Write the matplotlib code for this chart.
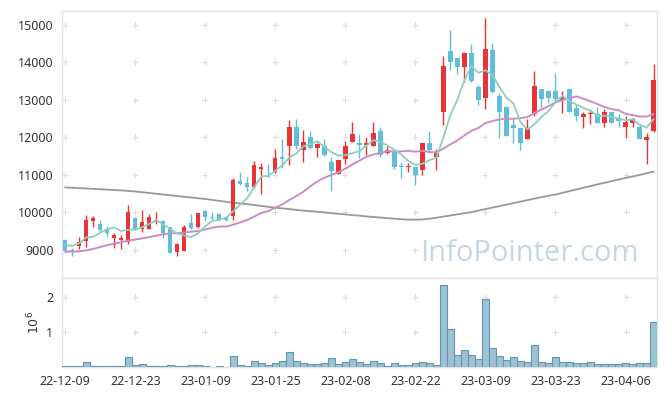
import matplotlib
matplotlib.use("Agg")
import matplotlib.pyplot as plt
import numpy as np
import pandas as pd

plt.rcParams['font.family'] = ['Noto Sans', 'DejaVu Sans']

dates = [
    "22-12-09", "22-12-12", "22-12-13", "22-12-14", "22-12-15", "22-12-16", "22-12-19", "22-12-20",
    "22-12-21", "22-12-22", "22-12-23", "22-12-26", "22-12-27", "22-12-28", "22-12-29", "23-01-02",
    "23-01-03", "23-01-04", "23-01-05", "23-01-06", "23-01-09", "23-01-10", "23-01-11", "23-01-12",
    "23-01-13", "23-01-16", "23-01-17", "23-01-18", "23-01-19", "23-01-20", "23-01-25", "23-01-26",
    "23-01-27", "23-01-30", "23-01-31", "23-02-01", "23-02-02", "23-02-03", "23-02-06", "23-02-07",
    "23-02-08", "23-02-09", "23-02-10", "23-02-13", "23-02-14", "23-02-15", "23-02-16", "23-02-17",
    "23-02-20", "23-02-21", "23-02-22", "23-02-23", "23-02-24", "23-02-27", "23-02-28", "23-03-02",
    "23-03-03", "23-03-06", "23-03-07", "23-03-08", "23-03-09", "23-03-10", "23-03-13", "23-03-14",
    "23-03-15", "23-03-16", "23-03-17", "23-03-20", "23-03-21", "23-03-22", "23-03-23", "23-03-24",
    "23-03-27", "23-03-28", "23-03-29", "23-03-30", "23-03-31", "23-04-03", "23-04-04", "23-04-05",
    "23-04-06", "23-04-07", "23-04-10", "23-04-11", "23-04-12",
]

opens = [9270, 9000, 9110, 9250, 9780, 9700, 9530, 9330, 9270, 9200,
         9840, 9550, 9570, 9740, 9770, 9600, 8940, 8980, 9710, 9600,
         10050, 9870, 9950, 9880, 9910, 10830, 10780, 10690, 11150, 10970,
         11090, 11460, 11780, 12290, 11670, 12020, 11730, 11780, 11340, 11030,
         11430, 11890, 11840, 11800, 11760, 12170, 11580, 11600, 11230, 11200,
         11200, 11140, 11840, 11490, 12690, 14310, 14130, 13890, 14240, 13340,
         13040, 14330, 13110, 12820, 12330, 12240, 11960, 12630, 13290, 13240,
         13240, 13000, 13290, 12780, 12550, 12620, 12620, 12380, 12690, 12460,
         12280, 12380, 12290, 11940, 12180]
closes = [8980, 8940, 9200, 9800, 9840, 9520, 9440, 9400, 9330, 10000,
          9550, 9740, 9870, 9800, 9460, 8930, 9150, 9600, 9580, 9980,
          9870, 9840, 9800, 9800, 10870, 10760, 10690, 11270, 11220, 10950,
          11440, 11430, 12290, 11780, 11870, 11730, 11820, 11530, 11110, 11400,
          11780, 12090, 11800, 11840, 12130, 11520, 11670, 11200, 11210, 11250,
          11000, 11840, 11670, 11580, 13910, 14000, 13870, 14240, 13510, 13000,
          14350, 13200, 12690, 12050, 12260, 11840, 12240, 13360, 13030, 13060,
          13020, 13070, 12670, 12560, 12620, 12650, 12380, 12690, 12380, 12440,
          12420, 12490, 11970, 12000, 13540]
highs = [9280, 9040, 9350, 9930, 9900, 9800, 9640, 9460, 9400, 10200,
         9890, 10070, 9950, 10000, 9800, 9620, 9180, 9670, 9950, 9990,
         10070, 10000, 9980, 9910, 10930, 11090, 10940, 11380, 11330, 11290,
         11680, 11950, 12470, 12490, 12200, 12160, 11840, 11950, 11470, 11400,
         11910, 12400, 12090, 12020, 12400, 12270, 11770, 11600, 11340, 11310,
         11200, 11840, 12160, 11690, 14160, 14870, 14130, 14270, 14490, 13400,
         15180, 14510, 13180, 12820, 12510, 12240, 12490, 13760, 13290, 13240,
         13720, 13240, 13290, 12870, 12670, 12750, 12800, 12750, 12690, 12620,
         12560, 12520, 12350, 12110, 13960]
lows = [8970, 8850, 9020, 9090, 9620, 9490, 9370, 9040, 9020, 9160,
        9520, 9490, 9550, 9690, 9310, 8920, 8840, 8960, 9550, 9590,
        9760, 9790, 9780, 9780, 9800, 10720, 10580, 10640, 10490, 10940,
        11060, 11180, 11270, 11700, 11340, 11690, 11490, 11510, 10580, 11030,
        11280, 11870, 11440, 11530, 11760, 11490, 11560, 11150, 10910, 11090,
        10720, 10990, 11580, 11130, 12320, 13800, 13690, 13470, 13490, 12870,
        12750, 13180, 11980, 12050, 11840, 11670, 11960, 12580, 12780, 12930,
        12980, 12640, 12670, 12440, 12250, 12360, 12380, 12270, 12380, 12290,
        12020, 12270, 11970, 11290, 12140]
volumes = [0.02, 0.02, 0.02, 0.135, 0.02, 0.02, 0.02, 0.02, 0.02, 0.28,
           0.05, 0.08, 0.02, 0.02, 0.02, 0.05, 0.02, 0.02, 0.05, 0.05,
           0.02, 0.005, 0.02, 0.005, 0.31, 0.05, 0.02, 0.16, 0.105, 0.05,
           0.105, 0.16, 0.42, 0.16, 0.105, 0.08, 0.08, 0.105, 0.25, 0.08,
           0.135, 0.22, 0.135, 0.08, 0.16, 0.105, 0.02, 0.105, 0.05, 0.05,
           0.105, 0.135, 0.105, 0.05, 2.33, 1.09, 0.34, 0.48, 0.34, 0.22,
           1.92, 0.54, 0.31, 0.19, 0.28, 0.16, 0.135, 0.625, 0.135, 0.105,
           0.28, 0.135, 0.135, 0.105, 0.105, 0.135, 0.08, 0.08, 0.08, 0.08,
           0.105, 0.08, 0.105, 0.105, 1.29]  # millions of shares

ma5_head = [9133, 9107, 9178, 9338]
ma20_head = [8956, 8956, 8965, 8990, 9030, 9080, 9130, 9170, 9210, 9250,
             9280, 9310, 9345, 9380, 9420, 9440, 9450, 9465, 9490]
ma120 = [10670, 10660, 10650, 10640, 10630, 10620, 10610, 10600, 10590, 10575,
         10560, 10540, 10520, 10500, 10480, 10460, 10440, 10420, 10400, 10380,
         10360, 10335, 10310, 10285, 10260, 10240, 10220, 10200, 10175, 10150,
         10130, 10110, 10090, 10070, 10050, 10035, 10020, 10000, 9985, 9965,
         9950, 9930, 9915, 9895, 9880, 9865, 9850, 9835, 9820, 9810,
         9810, 9815, 9835, 9860, 9890, 9920, 9950, 9980, 10010, 10050,
         10090, 10130, 10170, 10210, 10250, 10290, 10330, 10370, 10410, 10445,
         10480, 10525, 10570, 10615, 10660, 10705, 10750, 10790, 10835, 10880,
         10920, 10960, 11000, 11045, 11090]

price_ticks = [9000, 10000, 11000, 12000, 13000, 14000, 15000]
vol_ticks = [1, 2]

n = len(dates)
x = np.arange(n)
cl = pd.Series(closes, dtype=float)
ma5 = cl.rolling(5).mean().to_numpy()
ma5[:len(ma5_head)] = ma5_head
ma20 = cl.rolling(20).mean().to_numpy()
ma20[:len(ma20_head)] = ma20_head

RED = '#ea3337'
BLUE = '#62bed8'
SPINE = '#e3e3e3'
TXT = '#333333'

fig = plt.figure(figsize=(6.65, 3.96), dpi=100)
ax = fig.add_axes([0.0928, 0.2972, 0.8952, 0.6758])
ax2 = fig.add_axes([0.0928, 0.0732, 0.8952, 0.2240], sharex=ax)

for i in range(n):
    o, c, h, l = opens[i], closes[i], highs[i], lows[i]
    col = RED if c >= o else BLUE
    ax.vlines(x[i], l, h, color=col, lw=1.0, zorder=3)
    ax.bar(x[i], max(abs(c - o), 40), bottom=min(o, c), width=0.62, color=col,
           edgecolor='none', zorder=4)

ax.plot(x, ma120, color='#999999', lw=1.3, zorder=2)
ax.plot(x, ma20, color='#cc8cc6', lw=1.4, zorder=5)
ax.plot(x, ma5, color='#8ccfc0', lw=1.3, zorder=6)

ax.set_ylim(8245, 15381)
ax.set_xlim(-0.5, 84.5)
ax.set_yticks(price_ticks)

vol = np.array(volumes) * 1e6
ax2.bar(x, vol, width=1.0, color='#9cc2d3', edgecolor='#6397b0', lw=0.8, zorder=3)
ax2.set_ylim(0, 2.517e6)
ax2.set_yticks([v * 1e6 for v in vol_ticks])
ax2.set_yticklabels([str(v) for v in vol_ticks])
ax2.set_ylabel(r'$10^6$', color=TXT, fontsize=9, labelpad=3)

xt = list(range(0, n, 10))
ax2.set_xticks(xt)
ax2.set_xticklabels([dates[i] for i in xt])
plt.setp(ax.get_xticklabels(), visible=False)

for a in (ax, ax2):
    for s in a.spines.values():
        s.set_color(SPINE)
        s.set_linewidth(1.0)
    a.tick_params(length=0, colors=TXT, labelsize=9)
    a.tick_params(axis='x', pad=6)
    a.tick_params(axis='y', pad=6)

# plus-shaped grid markers at tick intersections
gx, gy = np.meshgrid(xt, price_ticks)
ax.scatter(gx.ravel(), gy.ravel(), marker='+', s=14, color='#dcdcdc', lw=0.8, zorder=1)
gx2, gy2 = np.meshgrid(xt, [v * 1e6 for v in vol_ticks])
ax2.scatter(gx2.ravel(), gy2.ravel(), marker='+', s=14, color='#dcdcdc', lw=0.8, zorder=1)

fig.text(0.7955, 0.3417, 'InfoPointer.com', fontsize=21, color='#c3d8e3',
         ha='center', va='baseline', family=['Open Sans', 'DejaVu Sans'], zorder=0)

fig.savefig('out.png', dpi=100)
